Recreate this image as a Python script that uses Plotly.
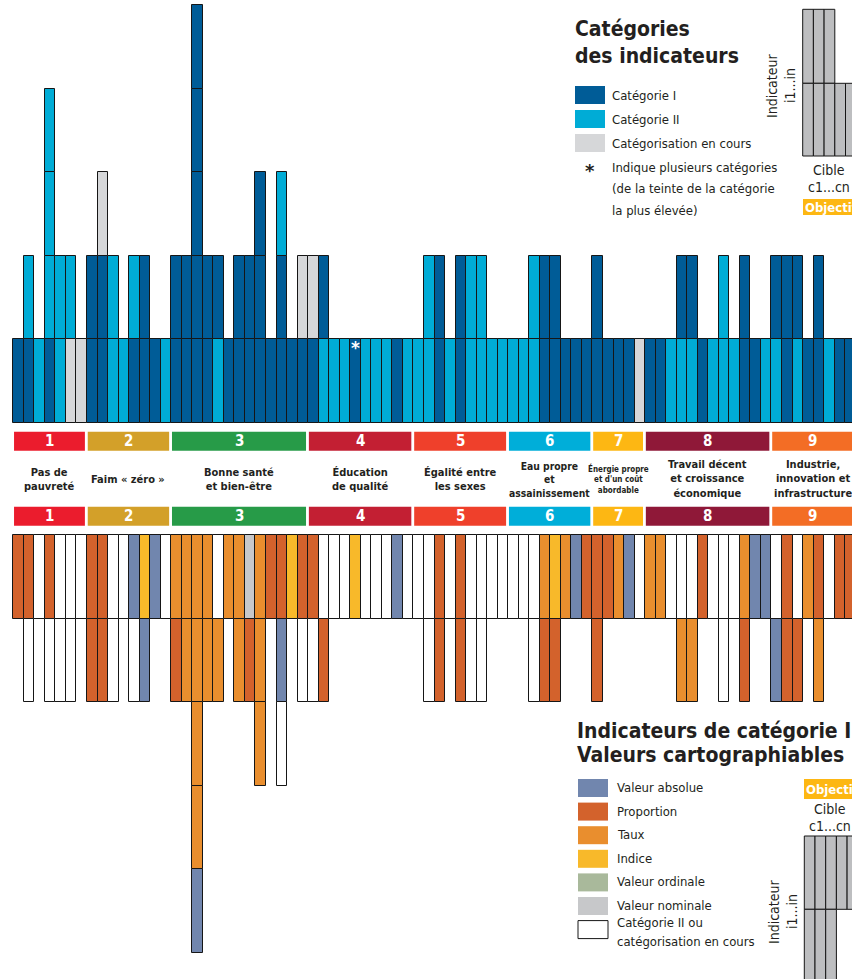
import plotly.graph_objects as go

# ---------------- data ----------------
goal_numbers = ["1", "2", "3", "4", "5", "6", "7", "8", "9"]
goal_labels = [
    "Pas de<br>pauvreté",
    "Faim « zéro »",
    "Bonne santé<br>et bien-être",
    "Éducation<br>de qualité",
    "Égalité entre<br>les sexes",
    "Eau propre<br>et<br>assainissement",
    "Énergie propre<br>et d'un coût<br>abordable",
    "Travail décent<br>et croissance<br>économique",
    "Industrie,<br>innovation et<br>infrastructure",
]
goal_colors = ["#EB1C2D", "#D3A029", "#279B48", "#C31F33", "#EF402B",
               "#00AED9", "#FDB713", "#8F1838", "#F36D25"]
goal_target_counts = [7, 8, 13, 10, 9, 8, 5, 12, 8]

# indicator tiers per target (bottom -> top): D = tier I, L = tier II, G = pending
top_cells = [
    "D", "DL", "L", "DLLL", "LL", "GL", "G",
    "DD", "DDG", "LL", "L", "DL", "DD", "D", "L",
    "DD", "DD", "DDDDD", "DD", "LD", "D", "DD", "DD", "DDD", "D", "DDL", "D", "DG",
    "DG", "LD", "L", "L", "D", "L", "L", "L", "D", "L",
    "L", "LL", "DD", "L", "DD", "LL", "LL", "L", "L",
    "L", "L", "LL", "DD", "DD", "D", "D", "D",
    "DD", "D", "D", "D", "G",
    "D", "D", "L", "LD", "LD", "D", "L", "LL", "L", "DD", "D", "L",
    "LD", "DD", "LD", "D", "DD", "L", "D", "D",
]
# mappable value types per target (top -> down)
bottom_cells = [
    "P", "PW", "W", "PW", "WW", "WW", "W",
    "PP", "PP", "WW", "W", "AW", "IA", "A", "W",
    "TP", "TT", "TTTTA", "TT", "WT", "T", "TT", "NP", "TTT", "P", "PAW", "I", "PW",
    "PW", "WP", "W", "W", "I", "W", "W", "W", "A", "W",
    "W", "WW", "PP", "W", "PP", "WW", "WW", "W", "W",
    "W", "W", "WW", "TP", "IP", "T", "A", "P",
    "PP", "P", "T", "A", "W",
    "T", "T", "W", "WT", "WT", "P", "W", "WW", "W", "TP", "A", "A",
    "WA", "PP", "WP", "T", "PT", "W", "P", "P",
]
starred_cells = [(32, 0)]

tier_codes = ["D", "L", "G"]
tier_names = ["Catégorie I", "Catégorie II", "Catégorisation en cours"]
tier_colors = ["#005C97", "#00ACD6", "#D6D7D9"]

value_codes = ["A", "P", "T", "I", "O", "N", "W"]
value_names = ["Valeur absolue", "Proportion", "Taux", "Indice", "Valeur ordinale",
               "Valeur nominale", "Catégorie II ou<br>catégorisation en cours"]
value_colors = ["#7186AE", "#D3622C", "#E98E2E", "#F8B92A", "#A9B99B", "#C7C8CA", "#FFFFFF"]

# ---------------- geometry ----------------
W, H = 852, 979
COL0 = 13.3       # px left edge of first column
COLW = 10.53      # px per column
ROWH = 83.5       # px per indicator cell
BASE_TOP = 422.7  # px baseline of upper stacks
BASE_BOT = 535.3  # px top of lower stacks
GAP = (BASE_BOT - BASE_TOP) / ROWH

x_lo = -0.5 - COL0 / COLW
x_hi = x_lo + W / COLW
y_hi = BASE_TOP / ROWH
y_lo = (BASE_TOP - H) / ROWH


def ypx(p):
    return (BASE_TOP - p) / ROWH


def fx(p):
    return p / W


def fy(p):
    return 1 - p / H


FONT = "DejaVu Sans Condensed, Liberation Sans Narrow, sans-serif"
INK = "#231F20"
EDGE = "#161616"

fig = go.Figure()

# upper stacks
for code, name, color in zip(tier_codes, tier_names, tier_colors):
    xs, bases = [], []
    for i, s in enumerate(top_cells):
        for k, c in enumerate(s):
            if c == code:
                xs.append(i)
                bases.append(k)
    fig.add_trace(go.Bar(x=xs, y=[1] * len(xs), base=bases, width=1, name=name,
                         marker=dict(color=color, line=dict(color=EDGE, width=1)),
                         showlegend=False))

# lower stacks
for code, name, color in zip(value_codes, value_names, value_colors):
    xs, bases = [], []
    for i, s in enumerate(bottom_cells):
        for k, c in enumerate(s):
            if c == code:
                xs.append(i)
                bases.append(-GAP - k - 1)
    fig.add_trace(go.Bar(x=xs, y=[1] * len(xs), base=bases, width=1, name=name,
                         marker=dict(color=color, line=dict(color=EDGE, width=1)),
                         showlegend=False))

shapes = []
annotations = []


def note(xp, yp, text, size, color=INK, xanchor="left", angle=0, family=FONT):
    annotations.append(dict(x=fx(xp), y=fy(yp), xref="paper", yref="paper",
                            xanchor=xanchor, yanchor="middle", text=text, showarrow=False,
                            textangle=angle, font=dict(size=size, color=color, family=family)))


def box(x0, y0, x1, y1, fill, line_color=None, lw=0):
    shapes.append(dict(type="rect", xref="paper", yref="paper", x0=fx(x0), x1=fx(x1),
                       y0=fy(y1), y1=fy(y0), fillcolor=fill,
                       line=dict(color=line_color or fill, width=lw)))


# asterisks
for (ci, lv) in starred_cells:
    annotations.append(dict(x=ci, y=lv + 0.9, xref="x", yref="y", text="<b>*</b>",
                            xanchor="center", yanchor="middle",
                            showarrow=False, font=dict(color="white", size=17, family="DejaVu Sans")))

# goal bands
start = 0
for g, n in enumerate(goal_target_counts):
    x0 = start - 0.5 + 0.07
    x1 = start + n - 0.5 - 0.2
    for (t, b) in [(431.7, 450.7), (506.7, 525.7)]:
        shapes.append(dict(type="rect", xref="x", yref="y", x0=x0, x1=x1,
                           y0=ypx(b), y1=ypx(t), fillcolor=goal_colors[g], line=dict(width=0),
                           layer="above"))
        annotations.append(dict(x=(x0 + x1) / 2, y=ypx((t + b) / 2), xref="x", yref="y",
                                xanchor="center", yanchor="middle",
                                text="<b>" + goal_numbers[g] + "</b>", showarrow=False,
                                font=dict(color="white", size=15, family=FONT)))
    fsize = 8 if g == 6 else (10.3 if g == 5 else 11)
    annotations.append(dict(x=(x0 + x1) / 2, y=ypx(479), xref="x", yref="y",
                            xanchor="center", yanchor="middle",
                            text="<b>" + goal_labels[g] + "</b>", showarrow=False,
                            font=dict(color=INK, size=fsize, family=FONT)))
    start += n

# ---------------- legend 1 ----------------
note(573, 29, "<b>Catégories</b>", 21)
note(573, 56, "<b>des indicateurs</b>", 21)
for j, (name, color) in enumerate(zip(tier_names, tier_colors)):
    top = 86 + 24 * j
    box(575, top, 605, top + 18, color)
    note(610, top + 9.5, name, 13)
note(590, 170, "<b>*</b>", 18, xanchor="center", family="DejaVu Sans")
for j, line in enumerate(["Indique plusieurs catégories", "(de la teinte de la catégorie",
                          "la plus élevée)"]):
    note(610, 167 + 21.5 * j, line, 13)

# mini diagram 1
MGREY = "#BDBEC0"
mini_cols = [802.7, 813.4, 824.1, 834.8, 845.5]
for j in range(3):
    box(mini_cols[j], 9.3, mini_cols[j] + 10.7, 83.3, MGREY, EDGE, 1)
for j in range(5):
    box(mini_cols[j], 83.3, mini_cols[j] + 10.7, 156, MGREY, EDGE, 1)
note(772, 86, "Indicateur", 14, xanchor="center", angle=-90)
note(790, 86, "i1...in", 14, xanchor="center", angle=-90)
note(829, 170, "Cible", 14, xanchor="center")
note(829, 187, "c1...cn", 14, xanchor="center")
box(803, 199, 870, 215, "#FDB713")
note(803, 207.5, "<b>Objectif</b>", 13, color="white")

# ---------------- legend 2 ----------------
note(575, 731, "<b>Indicateurs de catégorie I</b>", 21)
note(575, 755, "<b>Valeurs cartographiables</b>", 21)
for j, (name, color) in enumerate(zip(value_names, value_colors)):
    top = 779 + 23.6 * j
    is_white = color.upper() == "#FFFFFF"
    if is_white:
        box(578, top, 608, top + 18, color, EDGE, 1)
        for k, line in enumerate(name.split("<br>")):
            note(615, 922 + 19 * k, line, 13)
    else:
        box(578, top, 608, top + 18, color)
        note(615, top + 8.5, name, 13)

# mini diagram 2
box(804, 779, 870, 799, "#FDB713")
note(804, 789.5, "<b>Objectif</b>", 13, color="white")
note(830, 809, "Cible", 14, xanchor="center")
note(830, 826, "c1...cn", 14, xanchor="center")
mini2 = [804.3, 815.0, 825.7, 836.4, 847.1]
for j in range(5):
    box(mini2[j], 836, mini2[j] + 10.7, 909.3, MGREY, EDGE, 1)
for j in range(3):
    box(mini2[j], 909.3, mini2[j] + 10.7, 985, MGREY, EDGE, 1)
note(774, 912, "Indicateur", 14, xanchor="center", angle=-90)
note(792, 912, "i1...in", 14, xanchor="center", angle=-90)

fig.update_layout(
    width=W, height=H, margin=dict(l=0, r=0, t=0, b=0),
    paper_bgcolor="white", plot_bgcolor="white",
    barmode="overlay", bargap=0, showlegend=False,
    xaxis=dict(range=[x_lo, x_hi], visible=False, fixedrange=True),
    yaxis=dict(range=[y_lo, y_hi], visible=False, fixedrange=True),
    shapes=shapes, annotations=annotations,
)

fig.write_html("out.html", config={"displayModeBar": False},
               post_script="document.body.style.margin='0px';")
